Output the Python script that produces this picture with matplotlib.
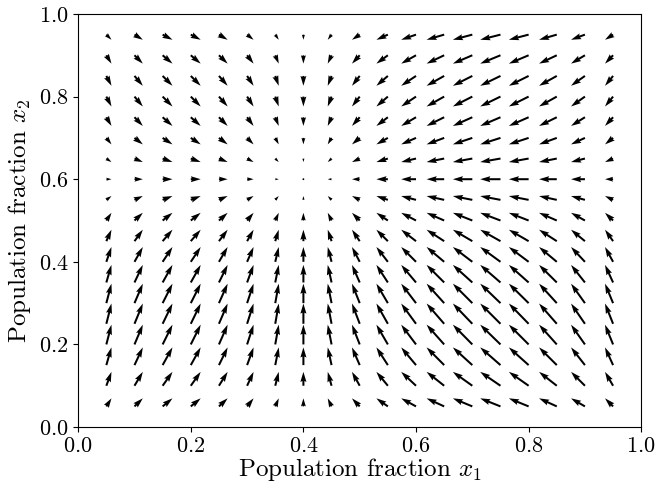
import matplotlib
matplotlib.use("Agg")
import matplotlib.pyplot as plt
import numpy as np

# grid of population fractions where arrows are drawn
x1_grid = [0.05, 0.10, 0.15, 0.20, 0.25, 0.30, 0.35, 0.40, 0.45, 0.50,
           0.55, 0.60, 0.65, 0.70, 0.75, 0.80, 0.85, 0.90, 0.95]
x2_grid = [0.05, 0.10, 0.15, 0.20, 0.25, 0.30, 0.35, 0.40, 0.45, 0.50,
           0.55, 0.60, 0.65, 0.70, 0.75, 0.80, 0.85, 0.90, 0.95]

# interior rest point of the replicator dynamics
rest_x1 = 0.4
rest_x2 = 0.6

tick_values = [0.0, 0.2, 0.4, 0.6, 0.8, 1.0]

plt.rcParams["font.family"] = "serif"
plt.rcParams["font.serif"] = ["cmr10"]
plt.rcParams["mathtext.fontset"] = "cm"
plt.rcParams["axes.formatter.use_mathtext"] = True

X1, X2 = np.meshgrid(x1_grid, x2_grid)
# replicator dynamics in each population
U = X1 * (1 - X1) * (rest_x1 - X1)
V = X2 * (1 - X2) * (rest_x2 - X2)

fig = plt.figure(figsize=(6.57, 4.82), dpi=100)
ax = fig.add_axes([0.119, 0.114, 0.857, 0.857])
ax.quiver(X1, X2, U, V, color="black", width=0.0036)

ax.set_xlim(0, 1)
ax.set_ylim(0, 1)
ax.set_xticks(tick_values)
ax.set_yticks(tick_values)
ax.tick_params(labelsize=16)
ax.set_xlabel(r"Population fraction $x_1$", fontsize=18, labelpad=0)
ax.set_ylabel(r"Population fraction $x_2$", fontsize=18, labelpad=4)

fig.savefig("out.png", dpi=100)
